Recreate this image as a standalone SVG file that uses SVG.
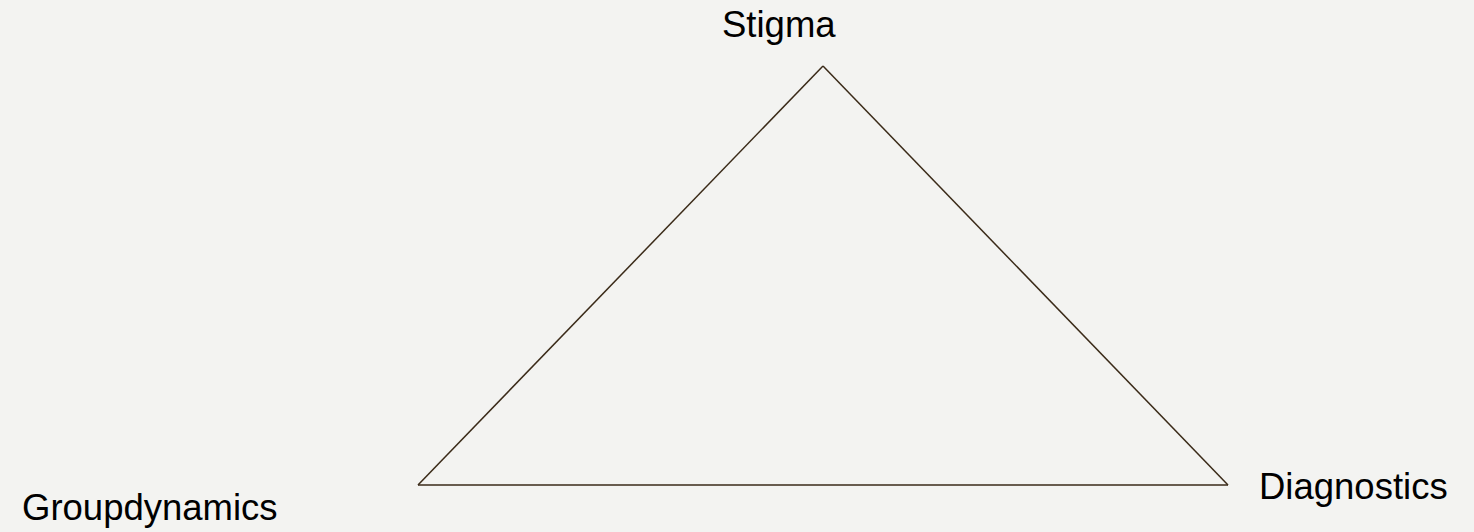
<svg xmlns="http://www.w3.org/2000/svg" width="1474" height="532" viewBox="0 0 1474 532">
<style>
.lbl{font-family:"Liberation Sans",Arial,sans-serif;font-size:36.5px;fill:#000}
.edge{stroke:#3a2a18;stroke-width:1.5;fill:none}
</style>
<rect width="1474" height="532" fill="#f3f3f1"/>
<g id="connectors">
<line class="edge" x1="823" y1="66" x2="418" y2="485"/>
<line class="edge" x1="823" y1="66" x2="1228" y2="485"/>
<line class="edge" x1="418" y1="485" x2="1228" y2="485"/>
</g>
<g id="stigma"><text class="lbl" x="722" y="37">Stigma</text></g>
<g id="groupdynamics"><text class="lbl" x="22" y="520">Groupdynamics</text></g>
<g id="diagnostics"><text class="lbl" x="1259" y="499">Diagnostics</text></g>
</svg>
